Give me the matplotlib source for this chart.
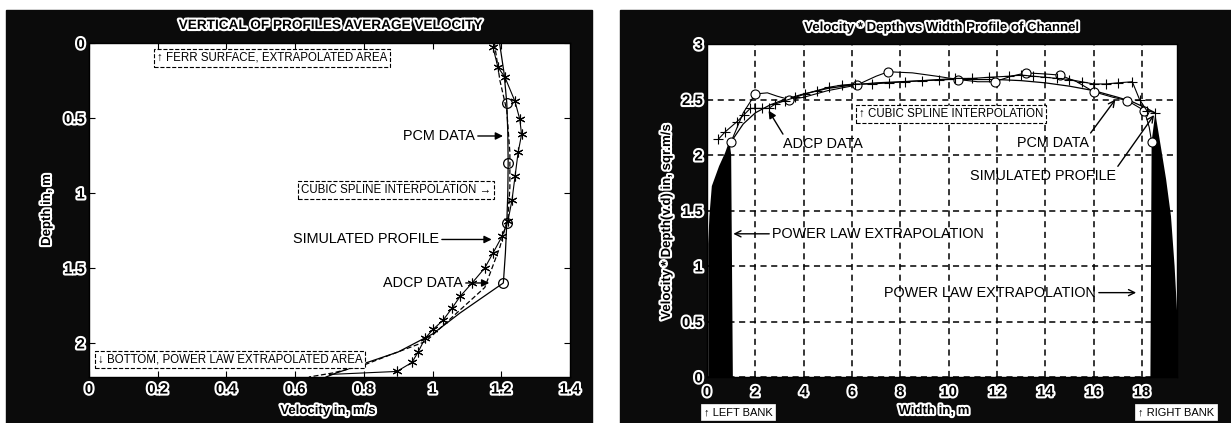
import matplotlib
matplotlib.use('Agg')
import matplotlib.pyplot as plt
from matplotlib import patheffects, font_manager
from matplotlib.patches import Rectangle

# ---- left chart: vertical profile of average velocity ----
pcm_depth = [0.40, 0.80, 1.20, 1.60]
pcm_vel = [1.216, 1.220, 1.216, 1.206]
pcm_line_depth = [0.0, 0.2, 0.4, 0.6, 0.8, 1.0, 1.2, 1.4, 1.6, 1.8, 1.94, 2.06, 2.13, 2.2, 2.227]
pcm_line_vel = [1.195, 1.208, 1.216, 1.219, 1.220, 1.219, 1.216, 1.212, 1.206, 1.08, 1.0, 0.9, 0.81, 0.72, 0.69]

adcp_depth = [0.03, 0.16, 0.23, 0.39, 0.51, 0.61, 0.73, 0.89, 1.05, 1.19, 1.29, 1.40, 1.50,
              1.60, 1.69, 1.77, 1.85, 1.91, 1.97, 2.06, 2.13, 2.19, 2.21]
adcp_vel = [1.176, 1.19, 1.211, 1.24, 1.254, 1.259, 1.249, 1.24, 1.231, 1.219, 1.202, 1.176, 1.152,
            1.115, 1.08, 1.056, 1.03, 1.001, 0.978, 0.958, 0.94, 0.896, 0.70]

sim_depth = [0.0, 0.25, 0.45, 0.73, 0.96, 1.16, 1.36, 1.63, 1.78, 1.99, 2.08, 2.15, 2.2, 2.227]
sim_vel = [1.18, 1.196, 1.216, 1.225, 1.225, 1.22, 1.196, 1.152, 1.08, 0.98, 0.876, 0.797, 0.71, 0.64]

left_xticks = [0, 0.2, 0.4, 0.6, 0.8, 1.0, 1.2, 1.4]
left_xlabels = ['0', '0.2', '0.4', '0.6', '0.8', '1', '1.2', '1.4']
left_yticks = [0, 0.5, 1.0, 1.5, 2.0]
left_ylabels = ['0', '0.5', '1', '1.5', '2']

# ---- right chart: velocity*depth vs width ----
pcm2_x = [1.0, 2.0, 3.4, 6.2, 7.5, 10.4, 11.9, 13.2, 14.6, 16.0, 17.4, 18.1, 18.4]
pcm2_y = [2.12, 2.55, 2.50, 2.63, 2.75, 2.68, 2.66, 2.74, 2.72, 2.57, 2.49, 2.40, 2.12]
pcm2_line_x = [1.0, 1.5, 2.0, 2.5, 2.9, 3.4, 4.0, 5.0, 6.2, 7.0, 7.5, 8.5, 9.5, 10.4, 11.2, 11.9,
               12.6, 13.2, 14.0, 14.6, 15.3, 16.0, 16.8, 17.4, 18.1, 18.3, 18.4]
pcm2_line_y = [2.12, 2.38, 2.55, 2.56, 2.53, 2.50, 2.52, 2.58, 2.63, 2.71, 2.75, 2.74, 2.71, 2.68,
               2.66, 2.66, 2.71, 2.74, 2.73, 2.72, 2.66, 2.57, 2.52, 2.49, 2.40, 2.25, 2.12]

adcp2_x = [0.46, 0.76, 1.24, 1.52, 1.79, 2.0, 2.28, 2.55, 2.83, 3.24, 3.66, 4.07, 4.55, 5.03, 5.59,
           6.14, 6.83, 7.52, 8.2, 8.9, 9.6, 10.28, 10.97, 11.66, 12.5, 13.0, 13.5, 14.0, 14.5,
           15.0, 15.5, 16.0, 16.5, 17.0, 17.6, 17.9, 18.2, 18.55]
adcp2_y = [2.14, 2.21, 2.30, 2.36, 2.42, 2.42, 2.42, 2.42, 2.46, 2.49, 2.52, 2.55, 2.58, 2.61, 2.63,
           2.64, 2.64, 2.65, 2.66, 2.67, 2.68, 2.69, 2.69, 2.70, 2.71, 2.72, 2.71, 2.70, 2.69,
           2.68, 2.66, 2.64, 2.64, 2.65, 2.66, 2.50, 2.40, 2.38]

sim2_x = [1.0, 1.5, 2.0, 2.6, 3.2, 4.0, 5.0, 6.0, 7.0, 8.0, 9.0, 10.0, 11.0, 12.0, 13.0, 14.0,
          15.0, 16.0, 17.0, 17.6, 18.1, 18.55]
sim2_y = [2.12, 2.28, 2.38, 2.45, 2.50, 2.55, 2.60, 2.63, 2.65, 2.66, 2.67, 2.68, 2.68, 2.68,
          2.67, 2.65, 2.62, 2.58, 2.52, 2.48, 2.43, 2.38]

left_bank_x = [0.05, 0.05, 0.1, 0.2, 0.5, 0.75, 0.93, 1.0, 1.07]
left_bank_y = [0.0, 1.2, 1.45, 1.72, 1.90, 2.02, 2.13, 2.0, 0.0]
right_bank_x = [18.35, 18.4, 18.55, 18.8, 19.0, 19.2, 19.35, 19.45, 19.45]
right_bank_y = [0.0, 2.12, 2.38, 2.05, 1.78, 1.45, 1.0, 0.6, 0.0]

right_xticks = [0, 2, 4, 6, 8, 10, 12, 14, 16, 18]
right_yticks = [0, 0.5, 1.0, 1.5, 2.0, 2.5, 3.0]
right_ylabels = ['0', '0.5', '1', '1.5', '2', '2.5', '3']

W, H = 1231, 423


def fx(px):
    return px / W


def fy(py):
    return 1 - py / H


names = {f.name for f in font_manager.fontManager.ttflist}
if 'Liberation Sans Narrow' in names:
    FAM, K = ['Liberation Sans Narrow', 'DejaVu Sans'], 1.2
else:
    FAM, K = ['Liberation Sans', 'DejaVu Sans'], 1.0

halo = [patheffects.withStroke(linewidth=3, foreground='white')]
BG = '#0b0b0b'

fig = plt.figure(figsize=(12.31, 4.23), dpi=100, facecolor='white')
fig.add_artist(Rectangle((fx(6), 0), fx(592) - fx(6), fy(10), transform=fig.transFigure,
                         color=BG, zorder=-10))
fig.add_artist(Rectangle((fx(620), 0), 1 - fx(620), fy(10), transform=fig.transFigure,
                         color=BG, zorder=-10))

boxed = dict(boxstyle='square,pad=0.25', fc='white', ec='black', ls='--', lw=0.8)
arrow_f = dict(arrowstyle='-|>', color='black', lw=1, mutation_scale=11, shrinkA=0, shrinkB=0)
arrow_o = dict(arrowstyle='->', color='black', lw=1, mutation_scale=11, shrinkA=0, shrinkB=0)

fs_lab = 10.4 * K
fs_box = 8.3 * K

# ================= left =================
ax1 = fig.add_axes([fx(89), fy(377), fx(570) - fx(89), fy(43) - fy(377)])
ax1.set_facecolor('white')
ax1.plot(pcm_line_vel, pcm_line_depth, color='black', lw=0.9)
ax1.plot(pcm_vel, pcm_depth, 'o', mfc='none', mec='black', ms=7, mew=0.9)
ax1.plot(sim_vel, sim_depth, color='black', lw=0.9, ls=(0, (4, 2)))
ax1.plot(adcp_vel, adcp_depth, color='black', lw=0.8, marker=(6, 2, 0), ms=7, mew=0.8,
         markevery=list(range(len(adcp_vel) - 1)))
ax1.set_xlim(0, 1.4)
ax1.set_ylim(2.227, 0)
ax1.set_xticks(left_xticks)
ax1.set_xticklabels(left_xlabels)
ax1.set_yticks(left_yticks)
ax1.set_yticklabels(left_ylabels)
ax1.tick_params(direction='in', top=True, right=True, length=4, width=0.8, pad=4)
ax1.tick_params(axis='y', pad=3)

ax1.text(0.533, 0.10, '\u2191 FERR SURFACE, EXTRAPOLATED AREA', ha='center', va='center',
         fontsize=fs_box, family=FAM, bbox=boxed)
ax1.text(0.893, 0.98, 'CUBIC SPLINE INTERPOLATION \u2192', ha='center', va='center',
         fontsize=fs_box, family=FAM, bbox=boxed)
ax1.text(0.41, 2.11, '\u2193 BOTTOM, POWER LAW EXTRAPOLATED AREA', ha='center', va='center',
         fontsize=fs_box, family=FAM, bbox=boxed)
ax1.annotate('PCM DATA', xy=(1.205, 0.62), xytext=(0.914, 0.62), ha='left', va='center',
             fontsize=fs_lab, family=FAM, arrowprops=dict(arrow_f, relpos=(1, 0.5)))
ax1.annotate('SIMULATED PROFILE', xy=(1.172, 1.31), xytext=(0.594, 1.31), ha='left', va='center',
             fontsize=fs_lab, family=FAM, arrowprops=dict(arrow_f, relpos=(1, 0.5)))
ax1.annotate('ADCP DATA', xy=(1.165, 1.60), xytext=(0.856, 1.60), ha='left', va='center',
             fontsize=fs_lab, family=FAM, arrowprops=dict(arrow_f, relpos=(1, 0.5)))

# ================= right =================
ax2 = fig.add_axes([fx(707), fy(377), fx(1177) - fx(707), fy(44) - fy(377)])
ax2.set_facecolor('white')
ax2.set_axisbelow(True)
ax2.grid(True, color='black', ls=(0, (4, 3)), lw=1.1)
ax2.fill(left_bank_x, left_bank_y, color='black', lw=0)
ax2.fill(right_bank_x, right_bank_y, color='black', lw=0)
ax2.plot(sim2_x, sim2_y, color='black', lw=0.9)
ax2.plot(pcm2_line_x, pcm2_line_y, color='black', lw=0.8)
ax2.plot(pcm2_x, pcm2_y, 'o', mfc='white', mec='black', ms=6.5, mew=0.8)
ax2.plot(adcp2_x, adcp2_y, color='black', lw=0.8, marker='+', ms=7, mew=0.8)
ax2.set_xlim(0, 19.45)
ax2.set_ylim(0, 3)
ax2.set_xticks(right_xticks)
ax2.set_yticks(right_yticks)
ax2.set_yticklabels(right_ylabels)
ax2.tick_params(direction='in', length=0, pad=6)
ax2.tick_params(axis='y', pad=3)

ax2.text(10.1, 2.37, '\u2191 CUBIC SPLINE INTERPOLATION', ha='center', va='center',
         fontsize=fs_box, family=FAM, bbox=boxed)
ax2.annotate('ADCP DATA', xy=(2.55, 2.40), xytext=(4.8, 2.1), ha='center', va='center',
             fontsize=fs_lab, family=FAM, arrowprops=dict(arrow_f, relpos=(0.02, 1)))
ax2.annotate('PCM DATA', xy=(16.9, 2.50), xytext=(14.3, 2.11), ha='center', va='center',
             fontsize=fs_lab, family=FAM, arrowprops=dict(arrow_o, relpos=(1, 1)))
ax2.annotate('SIMULATED PROFILE', xy=(18.5, 2.36), xytext=(13.9, 1.81), ha='center', va='center',
             fontsize=fs_lab, family=FAM, arrowprops=dict(arrow_o, relpos=(1, 1)))
ax2.annotate('POWER LAW EXTRAPOLATION', xy=(1.09, 1.29), xytext=(2.69, 1.29), ha='left',
             va='center', fontsize=fs_lab, family=FAM, arrowprops=dict(arrow_o, relpos=(0, 0.5)))
ax2.annotate('POWER LAW EXTRAPOLATION', xy=(17.76, 0.76), xytext=(16.1, 0.76), ha='right',
             va='center', fontsize=fs_lab, family=FAM, arrowprops=dict(arrow_o, relpos=(1, 0.5)))

# halo tick labels
for ax in (ax1, ax2):
    for sp in ax.spines.values():
        sp.set_color('black')
        sp.set_linewidth(1)
    for lab in ax.get_xticklabels() + ax.get_yticklabels():
        lab.set_fontsize(10.8 * K)
        lab.set_fontweight('bold')
        lab.set_family(FAM)
        lab.set_color('black')
        lab.set_path_effects(halo)


def halo_text(px, py, s, size, rot=0):
    fig.text(fx(px), fy(py), s, ha='center', va='center', rotation=rot, fontsize=size,
             fontweight='bold', family=FAM, color='black', path_effects=halo)


halo_text(330, 25, 'VERTICAL OF PROFILES AVERAGE VELOCITY', 9.8 * K)
halo_text(328, 411, 'Velocity in, m/s', 9.5 * K)
halo_text(47, 210, 'Depth in, m', 9.5 * K, rot=90)
halo_text(942, 28, 'Velocity * Depth vs Width Profile of Channel', 9.5 * K)
halo_text(934, 411, 'Width in, m', 9.5 * K)
halo_text(667, 222, 'Velocity * Depth(v.d) in, sqr.m/s', 9.5 * K, rot=90)

bank_box = dict(boxstyle='square,pad=0.25', fc='white', ec='white', lw=0.5)
fig.text(fx(738), fy(412), '\u2191 LEFT BANK', ha='center', va='center', fontsize=8 * K,
         family=FAM, color='black', bbox=bank_box)
fig.text(fx(1176), fy(412), '\u2191 RIGHT BANK', ha='center', va='center', fontsize=8 * K,
         family=FAM, color='black', bbox=bank_box)

fig.savefig('out.png', dpi=100, facecolor='white')
